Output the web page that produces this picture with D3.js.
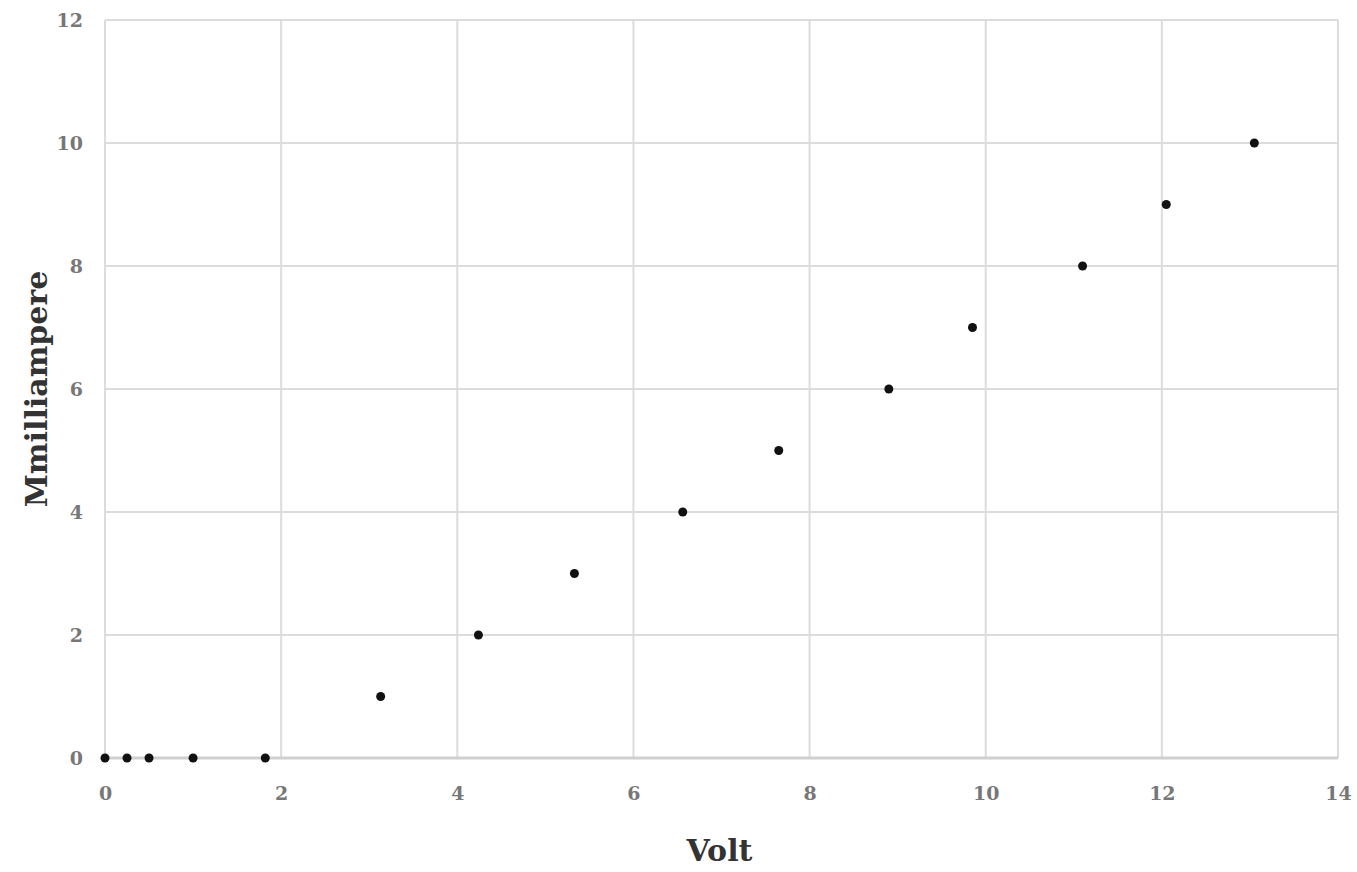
<!DOCTYPE html>
<html><head><meta charset="utf-8">
<script src="https://cdn.jsdelivr.net/npm/d3@7"></script>
<style>
body{margin:0;background:#fff;}
text{font-family:"DejaVu Serif","Liberation Serif",serif;}
</style></head>
<body><svg id="c" width="1357" height="872"></svg>
<script>
const voltValues = [0, 0.25, 0.5, 1.0, 1.82, 3.13, 4.24, 5.33, 6.56, 7.65, 8.9, 9.85, 11.1, 12.05, 13.05];
const mAValues   = [0, 0, 0, 0, 0, 1, 2, 3, 4, 5, 6, 7, 8, 9, 10];
const xTicks = [0, 2, 4, 6, 8, 10, 12, 14];
const yTicks = [0, 2, 4, 6, 8, 10, 12];
const xTitle = "Volt";
const yTitle = "Mmilliampere";

const svg = d3.select("#c");
const m = {l:105, r:1357-1338, t:20, b:872-758};
const W = 1357, H = 872;
const x = d3.scaleLinear().domain([0,14]).range([m.l, W-m.r]);
const y = d3.scaleLinear().domain([0,12]).range([H-m.b, m.t]);

const grid = svg.append("g");
grid.selectAll(".gx").data(xTicks).join("line")
  .attr("x1", d=>x(d)).attr("x2", d=>x(d)).attr("y1", y(0)).attr("y2", y(12))
  .attr("stroke", "#dcdcdc").attr("stroke-width", 2);
grid.selectAll(".gy").data(yTicks).join("line")
  .attr("x1", x(0)).attr("x2", x(14)).attr("y1", d=>y(d)).attr("y2", d=>y(d))
  .attr("stroke", "#dcdcdc").attr("stroke-width", 2);
svg.append("line").attr("x1", x(0)).attr("x2", x(14)).attr("y1", y(0)).attr("y2", y(0))
  .attr("stroke", "#cfcfcf").attr("stroke-width", 3);

const xAxis = d3.axisBottom(x).tickValues(xTicks).tickSize(0).tickPadding(29).tickFormat(d3.format("d"));
const gx = svg.append("g").attr("transform", `translate(0,${y(0)})`).call(xAxis);
gx.select(".domain").remove();
gx.selectAll("text").attr("fill", "#777").attr("font-size", 19).attr("font-weight", "bold")
  .attr("font-family", "DejaVu Serif, serif");

const yAxis = d3.axisLeft(y).tickValues(yTicks).tickSize(0).tickPadding(22).tickFormat(d3.format("d"));
const gy = svg.append("g").attr("transform", `translate(${x(0)},0)`).call(yAxis);
gy.select(".domain").remove();
gy.selectAll("text").attr("fill", "#777").attr("font-size", 19).attr("font-weight", "bold")
  .attr("font-family", "DejaVu Serif, serif");

svg.append("g").selectAll("circle").data(voltValues.map((v,i)=>[v, mAValues[i]])).join("circle")
  .attr("cx", d=>x(d[0])).attr("cy", d=>y(d[1])).attr("r", 4.5).attr("fill", "#111");

svg.append("text").attr("x", (x(0)+x(14))/2 - 2).attr("y", 861).attr("text-anchor","middle")
  .attr("font-size", 30).attr("font-weight","bold").attr("fill","#333").text(xTitle);
svg.append("text").attr("transform", `translate(47,${(y(0)+y(12))/2}) rotate(-90)`).attr("text-anchor","middle")
  .attr("font-size", 30).attr("font-weight","bold").attr("fill","#333").text(yTitle);
</script></body></html>
